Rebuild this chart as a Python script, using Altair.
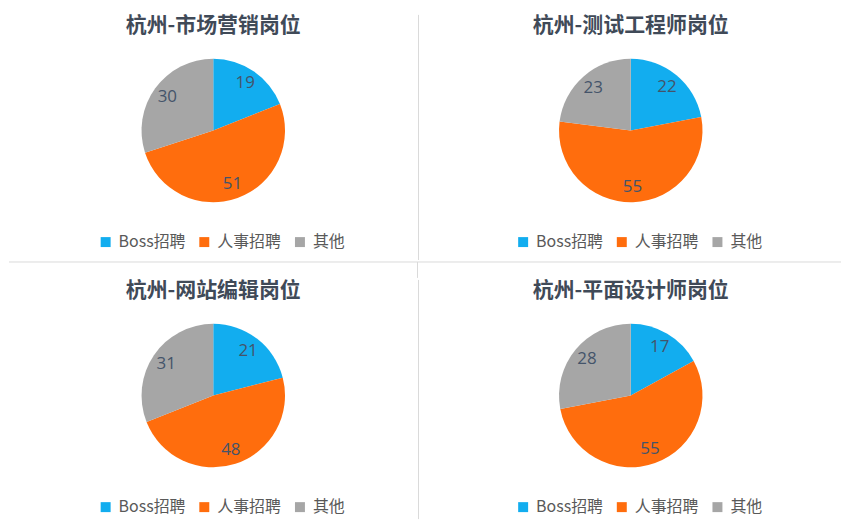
import altair as alt
import pandas as pd

panel_titles = ["杭州-市场营销岗位", "杭州-测试工程师岗位", "杭州-网站编辑岗位", "杭州-平面设计师岗位"]
categories = ["Boss招聘", "人事招聘", "其他"]
values_p1 = [19, 51, 30]
values_p2 = [22, 55, 23]
values_p3 = [21, 48, 31]
values_p4 = [17, 55, 28]
all_values = [values_p1, values_p2, values_p3, values_p4]
colors = ["#12ADEF", "#FF6D0D", "#A6A6A6"]

FONT = "Noto Sans CJK SC"
W1, W2 = 410, 424
H = 194
R = 72
LEG_W = 232
LINE = "#DADADA"


def panel(i, width):
    df = pd.DataFrame({"类别": categories, "数量": all_values[i], "序": [0, 1, 2]})
    base = alt.Chart(df).encode(
        theta=alt.Theta("数量:Q", stack=True),
        order=alt.Order("序:Q"),
    )
    arc = base.mark_arc(outerRadius=R).encode(
        color=alt.Color(
            "类别:N",
            scale=alt.Scale(domain=categories, range=colors),
            legend=alt.Legend(
                title=None, orient="none", direction="horizontal",
                legendX=width / 2 - LEG_W / 2, legendY=H + 7,
                symbolType="square", symbolSize=100, symbolStrokeWidth=0,
                labelFont=FONT, labelFontSize=16, labelColor="#595959",
                labelOffset=5, columnPadding=10,
            ),
        )
    )
    txt = base.mark_text(radius=57, fontSize=17, font="Open Sans").encode(
        text="数量:Q", color=alt.value("#44546A")
    )
    return alt.layer(arc, txt).properties(
        width=width, height=H,
        title=alt.TitleParams(panel_titles[i], fontSize=21, font=FONT, fontWeight="bold",
                              color="#404A58", offset=-2, anchor="middle"),
    ).resolve_scale(color="independent")


line_df = pd.DataFrame({"d": [0]})


def vline(top, bottom):
    return alt.Chart(line_df).mark_rule(color=LINE, strokeWidth=1).encode(
        x=alt.value(0), y=alt.value(top), y2=alt.value(bottom)
    ).properties(width=1, height=H)


total_w = W1 + 1 + W2
MID_H = 16
mid = alt.layer(
    alt.Chart(line_df).mark_rule(color=LINE, strokeWidth=1).encode(
        x=alt.value(0), x2=alt.value(total_w), y=alt.value(0)
    ),
    alt.Chart(line_df).mark_rule(color=LINE, strokeWidth=1).encode(
        x=alt.value(W1), y=alt.value(0), y2=alt.value(MID_H)
    ),
).properties(width=total_w, height=MID_H)

row1 = alt.hconcat(panel(0, W1), vline(-19, 227), panel(1, W2), spacing=0).resolve_scale(
    color="independent").resolve_legend(color="independent")
row2 = alt.hconcat(panel(2, W1), vline(-19, 221), panel(3, W2), spacing=0).resolve_scale(
    color="independent").resolve_legend(color="independent")

chart = alt.vconcat(row1, mid, row2, spacing=0).resolve_scale(color="independent").resolve_legend(
    color="independent"
).properties(padding={"top": 5, "left": 0, "right": 0, "bottom": 0}).configure_view(stroke=None)

chart.save("out.html", embed_options={"renderer": "svg", "actions": False})
